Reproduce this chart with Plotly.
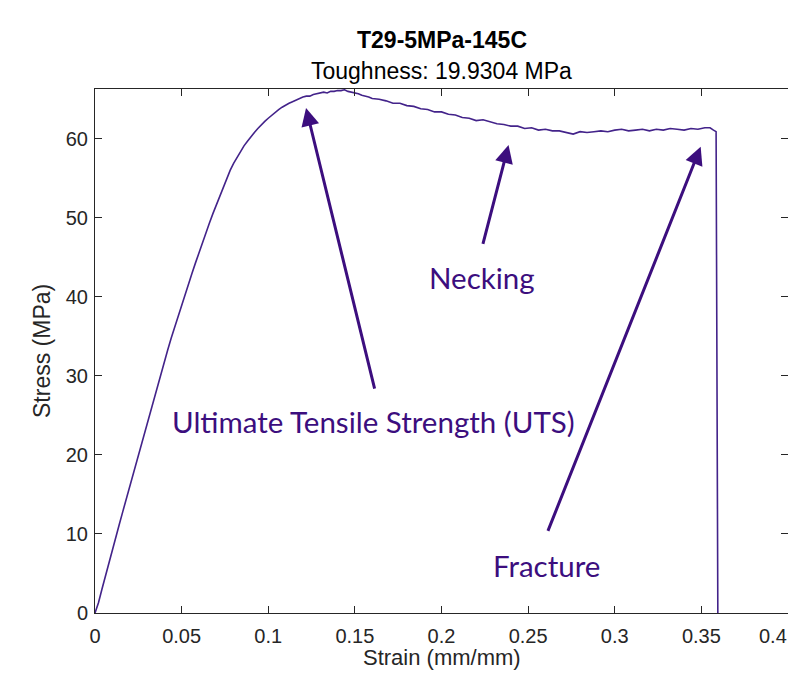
import plotly.graph_objects as go

# ---- data ----
strain = [
    0.000, 0.002, 0.004, 0.006, 0.008, 0.010, 0.012, 0.014, 0.016, 0.018,
    0.020, 0.022, 0.024, 0.026, 0.028, 0.030, 0.032, 0.034, 0.036, 0.038,
    0.040, 0.042, 0.044, 0.046, 0.048, 0.050, 0.052, 0.054, 0.056, 0.058,
    0.060, 0.062, 0.064, 0.066, 0.068, 0.070, 0.072, 0.074, 0.076, 0.078,
    0.080, 0.082, 0.084, 0.086, 0.088, 0.090, 0.092, 0.094, 0.096, 0.098,
    0.100, 0.102, 0.104, 0.106, 0.108, 0.110, 0.112, 0.114, 0.116, 0.118,
    0.120, 0.122, 0.124, 0.126, 0.128, 0.130, 0.132, 0.134, 0.136, 0.138,
    0.140, 0.142, 0.144, 0.146, 0.148, 0.150, 0.152, 0.154, 0.156, 0.158,
    0.160, 0.164, 0.168, 0.172, 0.176, 0.180, 0.184, 0.188, 0.192, 0.196,
    0.200, 0.204, 0.208, 0.212, 0.216, 0.220, 0.224, 0.228, 0.232, 0.236,
    0.240, 0.244, 0.248, 0.252, 0.256, 0.260, 0.264, 0.268, 0.272, 0.276,
    0.280, 0.284, 0.288, 0.292, 0.296, 0.300, 0.304, 0.308, 0.312, 0.316,
    0.320, 0.324, 0.328, 0.332, 0.336, 0.340, 0.344, 0.348, 0.352, 0.355,
    0.357, 0.3585, 0.3595,
]
stress = [
    0.0, 1.3, 3.0, 4.7, 6.4, 8.0, 9.7, 11.2, 12.8, 14.4,
    16.0, 17.6, 19.2, 20.8, 22.4, 24.0, 25.6, 27.2, 28.7, 30.3,
    31.8, 33.3, 34.8, 36.2, 37.6, 39.0, 40.4, 41.7, 43.0, 44.3,
    45.6, 46.9, 48.1, 49.3, 50.5, 51.6, 52.8, 53.9, 55.0, 56.0,
    56.9, 57.7, 58.4, 59.1, 59.7, 60.3, 60.8, 61.3, 61.8, 62.2,
    62.6, 63.0, 63.4, 63.7, 64.0, 64.3, 64.5, 64.7, 64.9, 65.1,
    65.3, 65.4, 65.4, 65.6, 65.7, 65.8, 65.9, 65.8, 66.0, 66.0,
    66.1, 66.1, 66.2, 66.0, 65.9, 65.8, 65.7, 65.5, 65.4, 65.3,
    65.1, 65.0, 64.8, 64.5, 64.5, 64.2, 64.1, 63.8, 63.7, 63.4,
    63.4, 63.1, 63.0, 62.7, 62.6, 62.3, 62.4, 62.1, 61.9, 61.8,
    61.6, 61.6, 61.3, 61.4, 61.1, 61.2, 61.0, 61.0, 60.8, 60.6,
    60.9, 60.8, 60.9, 61.0, 60.9, 61.1, 61.2, 61.0, 61.1, 61.2,
    61.0, 61.2, 61.1, 61.3, 61.2, 61.1, 61.3, 61.2, 61.4, 61.4,
    61.1, 60.9, 0.0,
]

x_tickvals = [0, 0.05, 0.1, 0.15, 0.2, 0.25, 0.3, 0.35, 0.4]
x_ticktext = ["0", "0.05", "0.1", "0.15", "0.2", "0.25", "0.3", "0.35", "0.4"]
y_tickvals = [0, 10, 20, 30, 40, 50, 60]
y_ticktext = ["0", "10", "20", "30", "40", "50", "60"]

title_main = "T29-5MPa-145C"
title_sub = "Toughness: 19.9304 MPa"
x_title = "Strain (mm/mm)"
y_title = "Stress (MPa)"

# annotation labels: (text, text_x, text_y, tip_x, tip_y, tail_x, tail_y)
labels = [
    ("Ultimate Tensile Strength (UTS)", 0.1605, 24.2, 0.1218, 63.9, 0.1616, 28.2),
    ("Necking", 0.2232, 42.4, 0.2387, 59.2, 0.2237, 46.5),
    ("Fracture", 0.2605, 5.95, 0.3496, 59.0, 0.2611, 10.2),
]

ink = "#262626"
purple = "#3C0E7E"
font_axes = "Liberation Sans, Arial, Helvetica, sans-serif"

fig = go.Figure()
fig.add_trace(go.Scatter(
    x=strain, y=stress, mode="lines",
    line=dict(color="#43238a", width=1.6),
    showlegend=False, hoverinfo="skip",
))

annotations = []
for text, tx, ty, hx, hy, sx, sy in labels:
    annotations.append(dict(
        x=hx, y=hy, xref="x", yref="y",
        ax=sx, ay=sy, axref="x", ayref="y",
        text="", showarrow=True, arrowhead=2, arrowsize=1.2,
        arrowwidth=3, arrowcolor=purple,
    ))
    annotations.append(dict(
        x=tx, y=ty, xref="x", yref="y", text=text, showarrow=False,
        font=dict(family="Lato, Carlito, sans-serif", size=29.5, color=purple),
        xanchor="center", yanchor="middle",
    ))

annotations.append(dict(
    x=0.5, y=1.0935, xref="paper", yref="paper", text="<b>" + title_main + "</b>",
    showarrow=False, font=dict(family=font_axes, size=23, color="#000000"),
    xanchor="center", yanchor="middle",
))
annotations.append(dict(
    x=0.5, y=1.0344, xref="paper", yref="paper", text=title_sub,
    showarrow=False, font=dict(family=font_axes, size=23, color="#000000"),
    xanchor="center", yanchor="middle",
))
annotations.append(dict(
    x=0.5, y=-0.084, xref="paper", yref="paper", text=x_title,
    showarrow=False, font=dict(family=font_axes, size=22, color=ink),
    xanchor="center", yanchor="middle", borderpad=0,
))
annotations.append(dict(
    x=-0.0765, y=0.5, xref="paper", yref="paper", text=y_title, textangle=-90,
    showarrow=False, font=dict(family=font_axes, size=23, color=ink),
    xanchor="center", yanchor="middle",
))
# last x tick label, kept fully inside the page at the right edge
annotations.append(dict(
    x=x_tickvals[-1], y=-0.0445, xref="x", yref="paper", text=x_ticktext[-1],
    showarrow=False, font=dict(family=font_axes, size=20, color=ink),
    xanchor="right", yanchor="middle", borderpad=0,
))

fig.update_layout(
    width=780, height=663,
    margin=dict(l=87, r=0, t=81, b=58, autoexpand=False),
    paper_bgcolor="white", plot_bgcolor="white",
    annotations=annotations,
    font=dict(family=font_axes, color=ink),
)
fig.update_xaxes(
    range=[0, 0.4], tickvals=x_tickvals, ticktext=x_ticktext[:-1] + [""],
    ticks="inside", ticklen=7, tickwidth=1, tickcolor=ink,
    showline=True, linecolor=ink, linewidth=1, mirror="ticks",
    showgrid=False, zeroline=False, automargin=False,
    tickfont=dict(size=20, color=ink, family=font_axes),
    ticklabelstandoff=5, ticklabeloverflow="allow",
)
fig.update_yaxes(
    range=[0, 66.3], tickvals=y_tickvals, ticktext=y_ticktext,
    ticks="inside", ticklen=7, tickwidth=1, tickcolor=ink,
    showline=True, linecolor=ink, linewidth=1, mirror="ticks",
    showgrid=False, zeroline=False, automargin=False,
    tickfont=dict(size=20, color=ink, family=font_axes),
    ticklabelstandoff=2, ticklabeloverflow="allow",
)

fig.write_html("out.html")
